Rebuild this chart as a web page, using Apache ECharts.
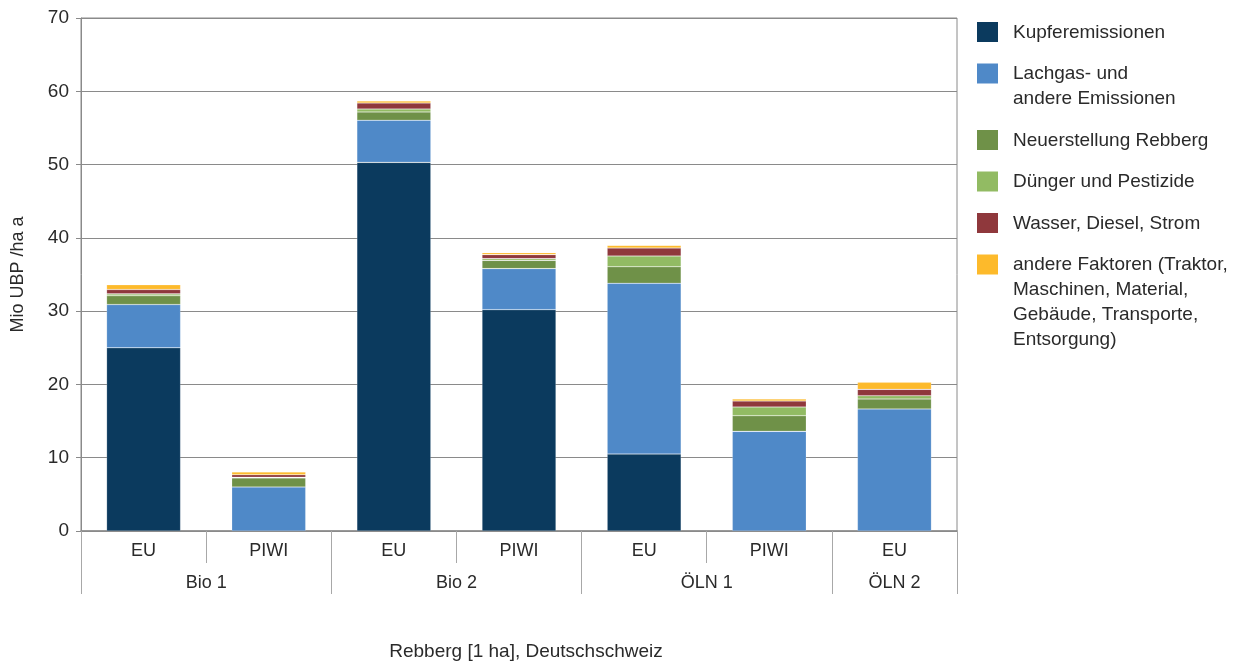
<!DOCTYPE html>
<html>
<head>
<meta charset="utf-8">
<script src="https://cdn.jsdelivr.net/npm/echarts@6/dist/echarts.min.js"></script>
<style>
html,body{margin:0;padding:0;background:#fff;}
#chart{width:1237px;height:663px;}
</style>
</head>
<body>
<div id="chart"></div>
<script>
// ---- data ----
const subCategories = ['EU', 'PIWI', 'EU', 'PIWI', 'EU', 'PIWI', 'EU'];
const groupNames = ['Bio 1', 'Bio 2', 'ÖLN 1', 'ÖLN 2'];
const groupSizes = [2, 2, 2, 1];
const seriesNames = [
  'Kupferemissionen',
  'Lachgas- und\nandere Emissionen',
  'Neuerstellung Rebberg',
  'Dünger und Pestizide',
  'Wasser, Diesel, Strom',
  'andere Faktoren (Traktor,\nMaschinen, Material,\nGebäude, Transporte,\nEntsorgung)'
];
const kupfer      = [25.0, 0,    50.3, 30.2, 10.5, 0,    0];
const lachgas     = [5.9,  6.0,  5.75, 5.6,  23.3, 13.6, 16.65];
const neuerst     = [1.2,  1.25, 1.13, 1.13, 2.26, 2.13, 1.36];
const duenger     = [0.25, 0.08, 0.4,  0.23, 1.46, 1.19, 0.45];
const wasser      = [0.6,  0.35, 0.82, 0.55, 1.09, 0.82, 0.87];
const andere      = [0.65, 0.37, 0.27, 0.27, 0.37, 0.27, 0.96];
const yTicks = [0, 10, 20, 30, 40, 50, 60, 70];

const seriesValues = [kupfer, lachgas, neuerst, duenger, wasser, andere];
const colors = ['#0b3a5e', '#4f89c8', '#6f9148', '#92bb63', '#8f383c', '#fdba2b'];

// group boundaries and centers
const groupBounds = [0];
const groupCenters = [];
groupSizes.forEach((s) => {
  const start = groupBounds[groupBounds.length - 1];
  groupCenters.push(start + s / 2);
  groupBounds.push(start + s);
});

const FONT = 'Liberation Sans, Arial, sans-serif';
const TXT = '#2a2a2a';
const AX = '#8a8a8a';

const chart = echarts.init(document.getElementById('chart'));

// legend graphic
const legendGraphics = [];
let legendTop = 22;
seriesNames.forEach((name, i) => {
  const lines = name.split('\n').length;
  legendGraphics.push({
    type: 'rect',
    shape: { x: 977, y: legendTop, width: 21, height: 20 },
    style: { fill: colors[i] }
  });
  legendGraphics.push({
    type: 'text',
    x: 1013,
    y: legendTop - 2,
    style: {
      text: name,
      fill: TXT,
      font: '19px ' + FONT,
      lineHeight: 25,
      verticalAlign: 'top',
      align: 'left'
    }
  });
  legendTop += lines * 25 + 16.5;
});
legendGraphics.push({
  type: 'text',
  x: 526,
  y: 652,
  style: {
    text: 'Rebberg [1 ha], Deutschschweiz',
    fill: TXT,
    font: '19px ' + FONT,
    align: 'center',
    verticalAlign: 'middle'
  }
});

const option = {
  animation: false,
  backgroundColor: '#fff',
  grid: {
    left: 81, right: 280, top: 18, bottom: 132,
    show: true, borderColor: AX, borderWidth: 1, backgroundColor: 'transparent'
  },
  xAxis: [
    {
      type: 'category',
      data: subCategories,
      position: 'bottom',
      axisLine: { show: true, lineStyle: { color: AX, width: 1.5 } },
      axisTick: { show: true, length: 32, lineStyle: { color: '#a8a8a8' } },
      axisLabel: { fontSize: 18, fontFamily: FONT, color: TXT, margin: 11 },
      splitLine: { show: false }
    },
    {
      type: 'value',
      min: 0,
      max: subCategories.length,
      position: 'bottom',
      offset: 32,
      axisLine: { show: false },
      splitLine: { show: false },
      axisTick: { show: true, length: 31, customValues: groupBounds, lineStyle: { color: '#a8a8a8' } },
      axisLabel: {
        show: true,
        customValues: groupCenters,
        fontSize: 18, fontFamily: FONT, color: TXT, margin: 11,
        formatter: (v) => {
          const idx = groupCenters.findIndex((c) => Math.abs(c - v) < 1e-6);
          return idx >= 0 ? groupNames[idx] : '';
        }
      }
    }
  ],
  yAxis: {
    type: 'value',
    min: yTicks[0],
    max: yTicks[yTicks.length - 1],
    interval: yTicks[1] - yTicks[0],
    name: 'Mio UBP /ha a',
    nameLocation: 'middle',
    nameGap: 54,
    nameTextStyle: { fontSize: 18, fontFamily: FONT, color: TXT },
    axisLine: { show: true, lineStyle: { color: AX } },
    axisTick: { show: true, length: 5, lineStyle: { color: AX } },
    axisLabel: { fontSize: 19, fontFamily: FONT, color: TXT, margin: 12 },
    splitLine: { show: true, lineStyle: { color: AX, width: 1 } }
  },
  series: seriesNames.map((name, i) => ({
    name: name,
    type: 'bar',
    stack: 'total',
    xAxisIndex: 0,
    barWidth: 74,
    data: seriesValues[i].map((v) => (v === 0 ? null : v)),
    itemStyle: { color: colors[i], borderColor: 'rgba(255,255,255,0.3)', borderWidth: 0.6 }
  })),
  graphic: legendGraphics
};

chart.setOption(option);
</script>
</body>
</html>
